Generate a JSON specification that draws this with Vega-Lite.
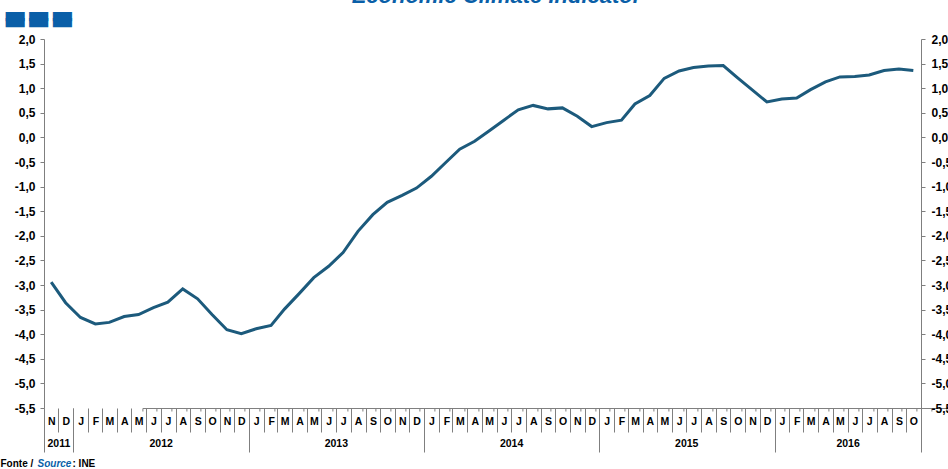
{
  "$schema": "https://vega.github.io/schema/vega-lite/v6.json",
  "width": 877,
  "height": 369,
  "autosize": {"type": "none"},
  "padding": {"left": 44, "top": 39, "right": 27, "bottom": 61},
  "background": "white",
  "config": {"view": {"stroke": null}, "font": "Liberation Sans"},
  "title": {
    "text": "Economic Climate Indicator",
    "color": "#0a5fa8",
    "fontSize": 22,
    "font": "Liberation Sans",
    "fontWeight": "bold",
    "fontStyle": "italic",
    "anchor": "middle",
    "frame": "group",
    "offset": -6,
    "dx": 14
  },
  "data": {
    "values": [
      {"date": "2011-11-16", "value": -2.94},
      {"date": "2011-12-16", "value": -3.36},
      {"date": "2012-01-16", "value": -3.66},
      {"date": "2012-02-16", "value": -3.79},
      {"date": "2012-03-16", "value": -3.76},
      {"date": "2012-04-16", "value": -3.64},
      {"date": "2012-05-16", "value": -3.60},
      {"date": "2012-06-16", "value": -3.46},
      {"date": "2012-07-16", "value": -3.35},
      {"date": "2012-08-16", "value": -3.08},
      {"date": "2012-09-16", "value": -3.28},
      {"date": "2012-10-16", "value": -3.60},
      {"date": "2012-11-16", "value": -3.91},
      {"date": "2012-12-16", "value": -3.99},
      {"date": "2013-01-16", "value": -3.89},
      {"date": "2013-02-16", "value": -3.82},
      {"date": "2013-03-16", "value": -3.49},
      {"date": "2013-04-16", "value": -3.17},
      {"date": "2013-05-16", "value": -2.85},
      {"date": "2013-06-16", "value": -2.62},
      {"date": "2013-07-16", "value": -2.34},
      {"date": "2013-08-16", "value": -1.91},
      {"date": "2013-09-16", "value": -1.57},
      {"date": "2013-10-16", "value": -1.32},
      {"date": "2013-11-16", "value": -1.18},
      {"date": "2013-12-16", "value": -1.03},
      {"date": "2014-01-16", "value": -0.79},
      {"date": "2014-02-16", "value": -0.50},
      {"date": "2014-03-16", "value": -0.24},
      {"date": "2014-04-16", "value": -0.08},
      {"date": "2014-05-16", "value": 0.13},
      {"date": "2014-06-16", "value": 0.35},
      {"date": "2014-07-16", "value": 0.56},
      {"date": "2014-08-16", "value": 0.65},
      {"date": "2014-09-16", "value": 0.58},
      {"date": "2014-10-16", "value": 0.60},
      {"date": "2014-11-16", "value": 0.43},
      {"date": "2014-12-16", "value": 0.22},
      {"date": "2015-01-16", "value": 0.30},
      {"date": "2015-02-16", "value": 0.35},
      {"date": "2015-03-16", "value": 0.68},
      {"date": "2015-04-16", "value": 0.85},
      {"date": "2015-05-16", "value": 1.20},
      {"date": "2015-06-16", "value": 1.35},
      {"date": "2015-07-16", "value": 1.42},
      {"date": "2015-08-16", "value": 1.45},
      {"date": "2015-09-16", "value": 1.46},
      {"date": "2015-10-16", "value": 1.21},
      {"date": "2015-11-16", "value": 0.96},
      {"date": "2015-12-16", "value": 0.72},
      {"date": "2016-01-16", "value": 0.78},
      {"date": "2016-02-16", "value": 0.80},
      {"date": "2016-03-16", "value": 0.97},
      {"date": "2016-04-16", "value": 1.13},
      {"date": "2016-05-16", "value": 1.23},
      {"date": "2016-06-16", "value": 1.24},
      {"date": "2016-07-16", "value": 1.27},
      {"date": "2016-08-16", "value": 1.36},
      {"date": "2016-09-16", "value": 1.39},
      {"date": "2016-10-16", "value": 1.36}
    ]
  },
  "layer": [
    {
      "mark": {"type": "line", "color": "#1c5a7c", "strokeWidth": 3},
      "encoding": {
        "x": {
          "field": "date", "type": "temporal",
          "scale": {"type": "utc", "domain": [{"year": 2011, "month": 11, "date": 1, "utc": true}, {"year": 2016, "month": 11, "date": 1, "utc": true}]},
          "axis": {
            "orient": "bottom",
            "title": "Fonte / ",
            "titleX": -44, "titleY": 58, "titleAngle": 0, "titleAlign": "left", "titleBaseline": "alphabetic",
            "titleFontSize": 10, "titleFontWeight": "bold", "titleColor": "#000000",
            "domain": false, "grid": false,
            "tickCount": {"interval": "month", "step": 1},
            "ticks": true, "tickSize": 24, "tickColor": "#7f7f7f", "tickWidth": 1,
            "labelExpr": "(utcyear(datum.value) == 2016 && utcmonth(datum.value) == 10) ? '' : ['J','F','M','A','M','J','J','A','S','O','N','D'][utcmonth(datum.value)]",
            "labelOffset": 7.3, "labelPadding": -16, "labelFontSize": 10.5, "labelFontWeight": "bold", "labelColor": "#000000",
            "labelFlush": false, "labelOverlap": false, "labelBound": false, "labelAlign": "center"
          }
        },
        "y": {
          "field": "value", "type": "quantitative",
          "scale": {"domain": [-5.5, 2], "nice": false, "zero": false},
          "axis": {
            "orient": "left",
            "title": ["▬▬▬", "▬▬▬"],
            "titleLineHeight": 6,
            "titleX": -41, "titleY": -17, "titleAngle": 0, "titleAlign": "left", "titleBaseline": "alphabetic",
            "titleFont": "DejaVu Sans", "titleFontSize": 25, "titleFontWeight": "normal", "titleColor": "#0a5fa8",
            "values": [-5.5, -5, -4.5, -4, -3.5, -3, -2.5, -2, -1.5, -1, -0.5, 0, 0.5, 1, 1.5, 2],
            "labelExpr": "replace(replace(format(datum.value, '.1f'), '.', ','), '−', '-')",
            "domain": true, "domainColor": "#7f7f7f", "grid": false,
            "ticks": true, "tickSize": 4, "tickColor": "#7f7f7f",
            "labelFontSize": 12, "labelFontWeight": "bold", "labelColor": "#000000", "labelPadding": 5
          }
        }
      }
    },
    {
      "mark": {"type": "line", "opacity": 0},
      "encoding": {
        "x": {
          "field": "date", "type": "temporal",
          "scale": {"type": "utc", "domain": [{"year": 2011, "month": 11, "date": 1, "utc": true}, {"year": 2016, "month": 11, "date": 1, "utc": true}]},
          "axis": {
            "orient": "bottom",
            "title": "Source",
            "titleX": -7, "titleY": 58, "titleAngle": 0, "titleAlign": "left", "titleBaseline": "alphabetic",
            "titleFontSize": 10, "titleFontWeight": "bold", "titleFontStyle": "italic", "titleColor": "#0a5fa8",
            "domain": false, "grid": false, "labels": false,
            "values": [
              {"year": 2011, "month": 11, "date": 1, "utc": true},
              {"year": 2012, "month": 1, "date": 1, "utc": true},
              {"year": 2013, "month": 1, "date": 1, "utc": true},
              {"year": 2014, "month": 1, "date": 1, "utc": true},
              {"year": 2015, "month": 1, "date": 1, "utc": true},
              {"year": 2016, "month": 1, "date": 1, "utc": true},
              {"year": 2016, "month": 11, "date": 1, "utc": true}
            ],
            "ticks": true, "tickSize": 44, "tickColor": "#7f7f7f", "tickWidth": 1
          }
        },
        "y": {
          "field": "value", "type": "quantitative",
          "scale": {"domain": [-5.5, 2], "nice": false, "zero": false},
          "axis": {
            "orient": "right",
            "title": null,
            "values": [-5.5, -5, -4.5, -4, -3.5, -3, -2.5, -2, -1.5, -1, -0.5, 0, 0.5, 1, 1.5, 2],
            "labelExpr": "replace(replace(format(datum.value, '.1f'), '.', ','), '−', '-')",
            "domain": true, "domainColor": "#7f7f7f", "grid": false,
            "ticks": true, "tickSize": 4, "tickColor": "#7f7f7f",
            "labelFontSize": 12, "labelFontWeight": "bold", "labelColor": "#000000", "labelPadding": 6
          }
        }
      }
    },
    {
      "mark": {"type": "line", "opacity": 0},
      "encoding": {
        "x": {
          "field": "date", "type": "temporal",
          "scale": {"type": "utc", "domain": [{"year": 2011, "month": 11, "date": 1, "utc": true}, {"year": 2016, "month": 11, "date": 1, "utc": true}]},
          "axis": {
            "orient": "bottom",
            "title": ": INE",
            "titleX": 28, "titleY": 58, "titleAngle": 0, "titleAlign": "left", "titleBaseline": "alphabetic",
            "titleFontSize": 10, "titleFontWeight": "bold", "titleColor": "#000000",
            "domain": false, "grid": false, "ticks": false, "tickSize": 0,
            "values": [
              {"year": 2011, "month": 12, "date": 1, "utc": true},
              {"year": 2012, "month": 7, "date": 1, "utc": true},
              {"year": 2013, "month": 7, "date": 1, "utc": true},
              {"year": 2014, "month": 7, "date": 1, "utc": true},
              {"year": 2015, "month": 7, "date": 1, "utc": true},
              {"year": 2016, "month": 6, "date": 1, "utc": true}
            ],
            "labelExpr": "'' + utcyear(datum.value)",
            "labelPadding": 30, "labelFontSize": 10.5, "labelFontWeight": "bold", "labelColor": "#000000",
            "labelFlush": false, "labelOverlap": false, "labelBound": false, "labelAlign": "center"
          }
        },
        "y": {
          "field": "value", "type": "quantitative",
          "scale": {"domain": [-5.5, 2], "nice": false, "zero": false},
          "axis": null
        }
      }
    },
    {
      "mark": {"type": "line", "opacity": 0},
      "encoding": {
        "x": {
          "field": "date", "type": "temporal",
          "scale": {"type": "utc", "domain": [{"year": 2011, "month": 11, "date": 1, "utc": true}, {"year": 2016, "month": 11, "date": 1, "utc": true}]},
          "axis": {
            "orient": "bottom",
            "title": null,
            "position": {"expr": "scale('y', 0)"},
            "domain": true, "domainColor": "#7f7f7f", "domainWidth": 1, "grid": false, "labels": false,
            "tickCount": {"interval": "month", "step": 1},
            "ticks": true, "tickSize": 3, "tickColor": "#7f7f7f"
          }
        },
        "y": {
          "field": "value", "type": "quantitative",
          "scale": {"domain": [-5.5, 2], "nice": false, "zero": false},
          "axis": null
        }
      }
    }
  ],
  "resolve": {"scale": {"x": "shared", "y": "shared"}, "axis": {"x": "independent", "y": "independent"}}
}
